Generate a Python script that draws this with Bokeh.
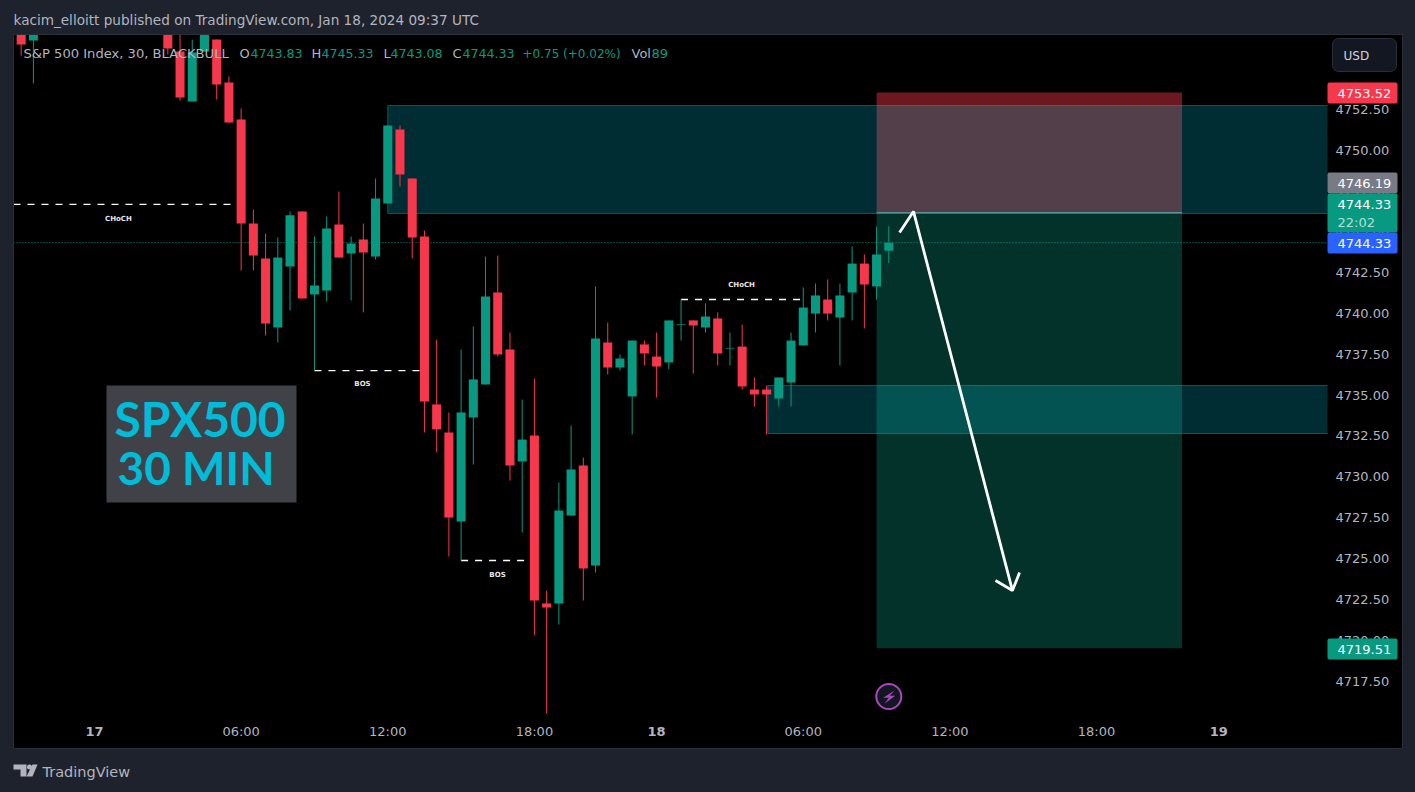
from bokeh.embed import file_html
from bokeh.resources import INLINE
from bokeh.plotting import figure
from bokeh.models import (BoxAnnotation, Label, LinearAxis, FixedTicker, PolyAnnotation,
                          Range1d, NumeralTickFormatter)
from bokeh.core.properties import value

# ---- bar index is on the x axis (30 min bars; the 18:00-00:00 stretch skips the market break)
idx    = [-6,-5,6,7,8,9,10,11,12,13,14,15,16,17,18,19,20,21,22,23,24,25,26,27,28,29,30,31,32,33,34,35,36,37,38,39,40,41,42,43,44,45,46,47,48,49,50,51,52,53,54,55,56,57,58,59,60,61,62,63,64,65]
opens  = [4757.9,4756.70,4757.9,4756.03,4752.97,4756.03,4756.76,4754.13,4751.87,4745.50,4743.36,4739.14,4742.87,4746.24,4741.16,4741.40,4745.44,4743.67,4744.52,4743.48,4746.73,4751.26,4748.26,4744.71,4734.43,4732.71,4727.26,4733.63,4735.65,4741.28,4737.79,4730.94,4732.53,4722.25,4722.25,4727.63,4730.69,4724.57,4738.22,4736.69,4734.92,4738.10,4737.36,4737.00,4739.31,4739.57,4739.14,4739.69,4737.85,4737.97,4735.34,4735.34,4734.79,4735.77,4738.04,4739.99,4740.85,4739.75,4741.28,4743.05,4741.65,4743.83]
highs  = [4758.2,4758.2,4758.2,4758.2,4756.76,4758.2,4756.76,4754.50,4752.54,4746.36,4744.89,4744.65,4746.24,4746.24,4744.71,4745.93,4747.46,4744.71,4745.50,4748.26,4751.50,4751.50,4748.26,4745.07,4738.40,4733.94,4737.79,4739.20,4743.48,4743.54,4738.83,4734.73,4736.02,4723.04,4729.65,4733.14,4731.18,4741.65,4739.44,4737.49,4738.34,4738.34,4738.83,4739.57,4740.85,4739.57,4740.61,4740.06,4738.83,4739.32,4736.08,4735.59,4736.08,4738.83,4741.59,4741.83,4742.08,4741.83,4744.10,4743.61,4745.32,4745.33]
lows   = [4755.78,4754.07,4755.85,4753.03,4752.97,4756.03,4753.09,4751.68,4742.63,4742.63,4738.65,4738.22,4740.18,4740.91,4736.51,4740.73,4743.42,4740.79,4740.06,4743.30,4746.73,4747.77,4743.36,4732.71,4731.49,4725.12,4724.88,4730.75,4735.65,4737.36,4729.77,4726.59,4720.29,4715.51,4720.96,4727.63,4722.43,4724.14,4736.26,4736.51,4732.59,4736.81,4734.85,4736.57,4738.34,4736.32,4738.83,4736.81,4736.81,4735.34,4734.30,4732.59,4734.30,4734.30,4738.04,4738.83,4739.57,4736.81,4739.57,4739.08,4740.85,4743.08]
closes = [4756.46,4757.9,4756.21,4753.21,4755.97,4757.2,4754.01,4751.68,4745.50,4743.54,4739.38,4743.42,4746.00,4740.91,4741.71,4745.20,4743.42,4744.28,4743.73,4747.03,4751.50,4748.50,4744.65,4734.61,4732.90,4727.51,4733.94,4735.96,4741.03,4737.49,4730.69,4732.28,4722.43,4722.00,4727.94,4730.45,4724.39,4738.46,4736.69,4737.24,4738.34,4737.55,4736.75,4739.57,4739.35,4739.26,4739.81,4737.55,4737.89,4735.53,4735.04,4735.04,4736.08,4738.34,4740.36,4741.10,4739.99,4741.10,4743.05,4741.77,4743.61,4744.33]

time_ticks  = [12, 24, 36, 58, 70, 82]
time_labels = ["06:00", "12:00", "18:00", "06:00", "12:00", "18:00"]
date_ticks  = [0, 46, 92]
date_labels = ["17", "18", "19"]
price_ticks = [4717.5, 4720, 4722.5, 4725, 4727.5, 4730, 4732.5, 4735, 4737.5, 4740, 4742.5, 4745, 4747.5, 4750, 4752.5]

zone_left   = [24, 55.1]
zone_top    = [4752.72, 4735.59]
zone_bottom = [4746.12, 4732.65]
pos_left, pos_right = 64.0, 89.0
stop_price, entry_price, target_price = 4753.52, 4746.19, 4719.51
last_price = 4744.33

dash_x0 = [-6.63, 18, 30, 48]
dash_x1 = [12, 27, 36, 58]
dash_y  = [4746.67, 4736.50, 4724.88, 4740.85]
tag_x   = [1.96, 21.93, 32.98, 52.95]
tag_y   = [4745.75, 4735.65, 4724.0, 4741.75]
tag_txt = ["CHoCH", "BOS", "BOS", "CHoCH"]

arrow_x = [65.88, 67.02, 75.12]
arrow_y = [4744.95, 4746.24, 4723.04]
head_x  = [73.73, 75.12, 75.7]
head_y  = [4723.65, 4723.04, 4724.14]

BG, BLACK, BORDER, TXT = "#1e222d", "#000000", "#2a2e39", "#b2b5be"
UP, DOWN = "#089981", "#f7374b"
FONT = "DejaVu Sans"

W, H = 1415, 792
def X(px): return (px - 94) / 12.22
def Y(py): return 4759.15 - 0.0612 * py

p = figure(width=W, height=H, output_backend="svg", toolbar_location=None,
           x_range=Range1d(X(0), X(W)), y_range=Range1d(Y(H), Y(0)),
           x_axis_location=None, y_axis_location=None,
           min_border=0, background_fill_color=BG, border_fill_color=BG, outline_line_color=None)
p.grid.visible = False

def box(l, r, t, b, fill, line=None, level="annotation", radius=0, alpha=1.0):
    p.add_layout(BoxAnnotation(left=l, right=r, top=t, bottom=b,
                      left_units="canvas", right_units="canvas", top_units="canvas", bottom_units="canvas",
                      fill_color=fill, fill_alpha=alpha, line_color=line, line_alpha=1.0 if line else 0,
                      level=level, border_radius=radius, editable=False))

def label(text, x, y, color=TXT, size=13, style="normal", align="left", font=FONT, alpha=1.0):
    p.add_layout(Label(x=x, y=y, x_units="canvas", y_units="canvas", text=text,
                       text_color=color, text_font_size=f"{size}px", text_font=font, text_font_style=style,
                       text_align=align, text_baseline="middle", text_alpha=alpha, level="overlay"))

# chart pane
box(13, 1402, 34, 748, BLACK, level="underlay")

# axes, fixed at the pane's inner edges
common = dict(major_tick_line_color=None, minor_tick_line_color=None, axis_line_color=None,
              major_label_text_color=TXT, major_label_text_font=FONT, major_label_text_font_size="13px")
ax_t = LinearAxis(ticker=FixedTicker(ticks=time_ticks), major_label_overrides=dict(zip(time_ticks, time_labels)),
                  fixed_location=Y(716), major_label_standoff=1, **common)
ax_d = LinearAxis(ticker=FixedTicker(ticks=date_ticks), major_label_overrides=dict(zip(date_ticks, date_labels)),
                  fixed_location=Y(716), major_label_standoff=4, major_label_text_font_style="bold", **common)
p.add_layout(ax_t, "below")
p.add_layout(ax_d, "below")
ax_p = LinearAxis(ticker=FixedTicker(ticks=price_ticks), formatter=NumeralTickFormatter(format="0.00"),
                  fixed_location=X(1327), major_label_standoff=2, **common)
p.add_layout(ax_p, "right")

# position tool and zones
p.quad(left=pos_left, right=pos_right, top=stop_price, bottom=entry_price, fill_color="#f23645", fill_alpha=0.45, line_color=None)
p.quad(left=pos_left, right=pos_right, top=entry_price, bottom=target_price, fill_color="#089981", fill_alpha=0.33, line_color=None)
for l, t, b in zip(zone_left, zone_top, zone_bottom):
    p.quad(left=l, right=X(1327), top=t, bottom=b, fill_color="#00bcd4", fill_alpha=0.24, line_color=None)
    p.line([X(1327), l, l, X(1327)], [t, t, b, b], line_color="#00bcd4", line_alpha=0.42, line_width=1)
p.line([pos_left, pos_right], [entry_price - 0.03, entry_price - 0.03], line_color="#8fb6c4", line_alpha=0.8, line_width=1.2)

# last price line
p.line([X(13), X(1327)], [last_price, last_price], line_color=UP, line_width=1, line_dash="1 2")

# structure lines
for x0, x1, y in zip(dash_x0, dash_x1, dash_y):
    p.line([x0, x1], [y, y], line_color="#ffffff", line_width=1.4, line_dash="7 7")
p.text(tag_x, tag_y, text=tag_txt, text_color="#e6e6e6", text_font=value("DejaVu Sans"), text_font_size="7px",
       text_font_style="bold", text_align="center", text_baseline="middle")

# candles
colors = [UP if c >= o else DOWN for o, c in zip(opens, closes)]
p.segment(idx, highs, idx, lows, line_color=colors, line_width=1)
p.vbar(x=idx, width=0.74, top=[max(o, c) for o, c in zip(opens, closes)],
       bottom=[min(o, c) for o, c in zip(opens, closes)], fill_color=colors, line_color=None)

# title card
p.quad(left=0.98, right=16.53, top=4735.59, bottom=4728.43, fill_color="#404247", line_color=None)
label("SPX500", 114, 418, "#00bcd8", 48, font="Lato", style="bold")
label("30 MIN", 117, 467, "#00bcd8", 46, font="Lato", style="bold")

# arrow
p.line(arrow_x, arrow_y, line_color="#ffffff", line_width=2.8)
p.line(head_x, head_y, line_color="#ffffff", line_width=2.8)

# session icon
p.scatter([X(888.3)], [Y(696)], marker="circle", size=25, fill_color="#131722", line_color="#ab47bc", line_width=2)
p.patch([X(v) for v in [894, 882.7, 888.3, 884, 894.7, 889.3]], [Y(v) for v in [690, 697.3, 697.3, 703.3, 695.3, 695.3]],
        fill_color="#ab47bc", line_color=None)

# top band hides bars that run above the pane, then the pane's border
box(0, 1415, 0, 34, BG)
box(13, 1402, 34, 748, None, BORDER)

# header
label("kacim_elloitt published on TradingView.com, Jan 18, 2024 09:37 UTC", 13, 19, size=13.6)

# legend
label("S&P 500 Index, 30, BLACKBULL", 23, 53, size=13.1)
for t, x, col, s in [("O", 239, TXT, 13), ("4743.83", 250, UP, 12.6), ("H", 311, TXT, 13), ("4745.33", 321, UP, 12.6),
                     ("L", 383, TXT, 13), ("4743.08", 390, UP, 12.6), ("C", 452, TXT, 13), ("4744.33", 462, UP, 12.6),
                     ("+0.75 (+0.02%)", 522, UP, 12), ("Vol", 631, TXT, 13), ("89", 651, UP, 13)]:
    label(t, x, 53, col, size=s)

# price tags
for top, bot, col in [(82, 103, "#f7374b"), (172, 193, "#787b86"), (193, 232, "#089981"), (232, 253, "#2962ff"), (638, 659, "#089981")]:
    box(1327, 1397, top, bot, col, radius=2)
for t, y, col, a in [("4753.52", 92.5, "#ffffff", 1), ("4746.19", 182.5, "#ffffff", 1), ("4744.33", 203.5, "#ffffff", 1),
                     ("22:02", 221.5, "#ffffff", 0.7), ("4744.33", 242.5, "#ffffff", 1), ("4719.51", 648.5, "#ffffff", 1)]:
    label(t, 1337, y, col, alpha=a)

# currency button
box(1332, 1396, 38, 71, "#131722", "#2a2e39", radius=6)
label("USD", 1343, 55, "#d1d4dc", size=12)

# footer logo
for xs, ys in [([13, 26, 26, 20, 20, 13], [764, 764, 776, 776, 769, 769]),
               ([32, 37, 32, 26], [764, 764, 776, 776])]:
    p.add_layout(PolyAnnotation(xs=xs, ys=ys, xs_units="canvas", ys_units="canvas",
                                fill_color=TXT, fill_alpha=1, line_color=None, level="overlay", editable=False))
box(26.5, 31.5, 764, 769, TXT, level="overlay", radius=3)
label("TradingView", 42, 771, TXT, 14.5)

html = file_html(p, INLINE).replace("<body>", f'<body style="background:{BG}">')
open("out.html", "w").write(html)
